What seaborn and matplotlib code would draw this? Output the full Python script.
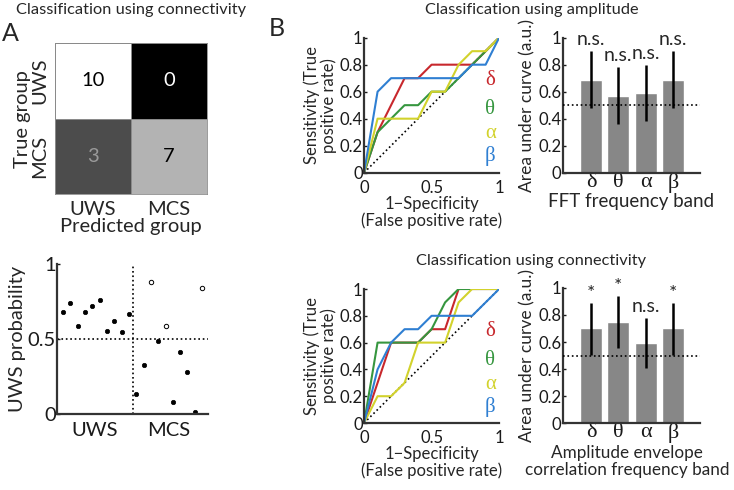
import numpy as np
import pandas as pd
import matplotlib
matplotlib.use("Agg")
import matplotlib.pyplot as plt
import seaborn as sns

sns.set_theme(style="white")
plt.rcParams['font.family'] = ['Lato', 'DejaVu Sans']

# ---------------- data ----------------
group_labels = ["UWS", "MCS"]
confusion = [[10, 0], [3, 7]]

uws_prob_uws = [0.683, 0.743, 0.588, 0.678, 0.723, 0.763, 0.552, 0.623, 0.548, 0.667]
uws_prob_mcs = [0.135, 0.324, 0.878, 0.490, 0.588, 0.082, 0.417, 0.282, 0.011, 0.843]

bands = ["δ", "θ", "α", "β"]
band_colors = ["#c8282d", "#36963f", "#d2d22c", "#2f7fd2"]

roc_amp_fpr = {
    "δ": [0, 0.1, 0.3, 0.4, 0.5, 0.8, 1],
    "θ": [0, 0.1, 0.3, 0.4, 0.5, 0.6, 1],
    "α": [0, 0.1, 0.4, 0.5, 0.6, 0.7, 0.8, 0.9, 1],
    "β": [0, 0.1, 0.2, 0.7, 0.8, 0.9, 1],
}
roc_amp_tpr = {
    "δ": [0, 0.3, 0.7, 0.7, 0.8, 0.8, 1],
    "θ": [0, 0.3, 0.5, 0.5, 0.6, 0.6, 1],
    "α": [0, 0.4, 0.4, 0.6, 0.6, 0.8, 0.9, 0.9, 1],
    "β": [0, 0.6, 0.7, 0.7, 0.8, 0.8, 1],
}
roc_con_fpr = {
    "δ": [0, 0.2, 0.4, 0.5, 0.6, 0.7, 1],
    "θ": [0, 0.1, 0.4, 0.5, 0.6, 0.7, 1],
    "α": [0, 0.1, 0.2, 0.3, 0.4, 0.6, 0.7, 0.8, 1],
    "β": [0, 0.1, 0.2, 0.3, 0.4, 0.5, 0.8, 1],
}
roc_con_tpr = {
    "δ": [0, 0.6, 0.6, 0.7, 0.7, 1, 1],
    "θ": [0, 0.6, 0.6, 0.7, 0.9, 1, 1],
    "α": [0, 0.2, 0.2, 0.3, 0.6, 0.6, 0.9, 1, 1],
    "β": [0, 0.4, 0.6, 0.7, 0.7, 0.8, 0.8, 1],
}

auc_amp = [0.69, 0.57, 0.59, 0.69]
auc_amp_lo = [0.48, 0.36, 0.38, 0.48]
auc_amp_hi = [0.90, 0.78, 0.80, 0.90]
sig_amp = ["n.s.", "n.s.", "n.s.", "n.s."]

auc_con = [0.70, 0.75, 0.59, 0.70]
auc_con_lo = [0.505, 0.555, 0.405, 0.505]
auc_con_hi = [0.885, 0.94, 0.775, 0.885]
sig_con = ["*", "*", "n.s.", "*"]

# ---------------- style ----------------
SPINE = "#333333"
BAR = "#878787"
GREEK = ['Liberation Serif', 'DejaVu Serif']
FA = 14.5   # panel A text
FB = 12     # panel B tick/axis text

fig = plt.figure(figsize=(7.34, 4.90), dpi=100)


def style_axes(ax, fs=FB):
    for s in ["top", "right"]:
        ax.spines[s].set_visible(False)
    for s in ["left", "bottom"]:
        ax.spines[s].set_color(SPINE)
        ax.spines[s].set_linewidth(1.6)
    ax.tick_params(axis="both", labelsize=fs, colors="#1a1a1a", pad=1)
    ax.tick_params(axis="y", direction="in", length=2.5, width=1, left=True)
    ax.tick_params(axis="x", direction="in", length=0, bottom=True)


# ---- A: confusion matrix ----
cm_rect = [0.0749, 0.604, 0.207, 0.308]
ax_cm = fig.add_axes(cm_rect)
cm_df = pd.DataFrame(confusion, index=group_labels, columns=group_labels)
sns.heatmap(cm_df, ax=ax_cm, cmap="gray", vmin=0, vmax=10, cbar=False,
            annot=True, fmt="d", annot_kws={"fontsize": FA},
            linewidths=0.6, linecolor="#8a8a8a", square=False)
ax_cm.set_aspect("auto")
ax_cm.set_position(cm_rect)
text_colors = ["black", "white", "#9a9a9a", "black"]
for t, c in zip(ax_cm.texts, text_colors):
    t.set_color(c)
for s in ax_cm.spines.values():
    s.set_visible(True)
    s.set_color("#8a8a8a")
    s.set_linewidth(0.6)
ax_cm.tick_params(length=0, labelsize=FA, pad=5)
ax_cm.set_yticklabels(group_labels, rotation=90, va="center")
ax_cm.set_xticklabels(group_labels, rotation=0)
ax_cm.set_xlabel("Predicted group", fontsize=FA, labelpad=0)
ax_cm.set_ylabel("True group", fontsize=FA, labelpad=0)

# ---- A: probability scatter ----
ax_sc = fig.add_axes([0.0777, 0.155, 0.2057, 0.306])
n_u, n_m = len(uws_prob_uws), len(uws_prob_mcs)
sc_df = pd.DataFrame({
    "idx": np.arange(1, n_u + n_m + 1),
    "p": uws_prob_uws + uws_prob_mcs,
})
sc_df["wrong"] = (sc_df["idx"] > n_u) & (sc_df["p"] > 0.5)
filled = sc_df[~sc_df["wrong"]]
hollow = sc_df[sc_df["wrong"]]
sns.scatterplot(data=filled, x="idx", y="p", ax=ax_sc, color="black",
                s=10, edgecolor="black", linewidth=0.5, legend=False)
sns.scatterplot(data=hollow, x="idx", y="p", ax=ax_sc, facecolor="white",
                s=10, edgecolor="black", linewidth=0.7, legend=False)
ax_sc.axhline(0.5, color="black", ls=":", lw=1.2)
ax_sc.axvline(n_u + 0.5, color="black", ls=":", lw=1.2)
ax_sc.set_xlim(0.2, 20.8)
ax_sc.set_ylim(0, 1)
style_axes(ax_sc, fs=FA)
ax_sc.set_yticks([0, 0.5, 1])
ax_sc.set_yticklabels(["0", "0.5", "1"])
ax_sc.set_xticks([5.3, 15.4])
ax_sc.set_xticklabels(group_labels)
ax_sc.tick_params(axis="x", pad=6)
ax_sc.set_xlabel("")
ax_sc.set_ylabel("UWS probability", fontsize=FA, labelpad=1)


# ---- B: ROC curves ----
def roc_panel(rect, fpr, tpr):
    ax = fig.add_axes(rect)
    rows = []
    for b in bands:
        for i, (x, y) in enumerate(zip(fpr[b], tpr[b])):
            rows.append({"band": b, "order": i, "fpr": x, "tpr": y})
    df = pd.DataFrame(rows)
    ax.plot([0, 1], [0, 1], color="black", ls=":", lw=1.2, zorder=1)
    sns.lineplot(data=df, x="fpr", y="tpr", hue="band", hue_order=bands,
                 palette=band_colors, sort=False, estimator=None, ax=ax,
                 lw=1.5, legend=False, zorder=2)
    ax.set_xlim(0, 1)
    ax.set_ylim(0, 1)
    style_axes(ax)
    ax.set_xticks([0, 0.5, 1])
    ax.set_xticklabels(["0", "0.5", "1"])
    ax.set_yticks([0, 0.2, 0.4, 0.6, 0.8, 1])
    ax.set_yticklabels(["0", "0.2", "0.4", "0.6", "0.8", "1"])
    ax.tick_params(axis="x", pad=5)
    ax.set_xlabel("1\u2212Specificity\n(False positive rate)", fontsize=FB,
                  labelpad=0, linespacing=1.05)
    ax.set_ylabel("Sensitivity (True\npositive rate)", fontsize=FB,
                  labelpad=2, linespacing=1.05)
    for b, c, yy in zip(bands, band_colors, [0.68, 0.47, 0.29, 0.12]):
        ax.text(0.935, yy, b, color=c, fontsize=15, family=GREEK,
                ha="center", va="center")
    return ax


roc_panel([0.496, 0.6476, 0.184, 0.2755], roc_amp_fpr, roc_amp_tpr)
roc_panel([0.496, 0.1367, 0.184, 0.2735], roc_con_fpr, roc_con_tpr)


# ---- B: AUC bars ----
def bar_panel(rect, auc, lo, hi, sig, xlabel, sig_y, xl_fs):
    ax = fig.add_axes(rect)
    df = pd.DataFrame({"band": bands, "auc": auc})
    sns.barplot(data=df, x="band", y="auc", ax=ax, color=BAR, width=0.79,
                saturation=1, errorbar=None)
    pos = np.arange(len(bands))
    ax.vlines(pos, lo, hi, color="black", lw=1.8, zorder=3)
    ax.axhline(0.5, color="black", ls=":", lw=1.2, zorder=4)
    for x, s, yy in zip(pos, sig, sig_y):
        ax.text(x, yy, s, ha="center", va="center", fontsize=14)
    ax.set_xlim(-1.02, 3.98)
    ax.set_ylim(0, 1)
    style_axes(ax)
    ax.set_yticks([0, 0.2, 0.4, 0.6, 0.8, 1])
    ax.set_yticklabels(["0", "0.2", "0.4", "0.6", "0.8", "1"])
    ax.set_xticks(pos)
    ax.set_xticklabels(bands, family=GREEK, fontsize=16)
    ax.tick_params(axis="x", pad=0)
    ax.set_xlabel(xlabel, fontsize=xl_fs, labelpad=0, linespacing=1.05)
    ax.set_ylabel("Area under curve (a.u.)", fontsize=12.5, labelpad=2)
    return ax


bar_panel([0.767, 0.6476, 0.1866, 0.2755], auc_amp, auc_amp_lo, auc_amp_hi,
          sig_amp, "FFT frequency band", [0.99, 0.865, 0.885, 0.99], 13.5)
ax_b2 = bar_panel([0.767, 0.136, 0.1866, 0.2767], auc_con, auc_con_lo,
                  auc_con_hi, sig_con,
                  "Amplitude envelope\ncorrelation frequency band",
                  [0.96, 1.01, 0.86, 0.96], 12.3)
ax_b2.xaxis.set_label_coords(0.47, -0.16, transform=ax_b2.transAxes)
ax_b2.xaxis.label.set_va("top")

# ---- titles / panel letters ----
fig.text(0.179, 0.98, "Classification using connectivity", ha="center",
         va="center", fontsize=11.8)
fig.text(0.725, 0.979, "Classification using amplitude", ha="center",
         va="center", fontsize=11.8)
fig.text(0.724, 0.467, "Classification using connectivity", ha="center",
         va="center", fontsize=11.8)
fig.text(0.0143, 0.932, "A", ha="center", va="center", fontsize=18)
fig.text(0.377, 0.941, "B", ha="center", va="center", fontsize=18)

fig.savefig("out.png", dpi=100)
